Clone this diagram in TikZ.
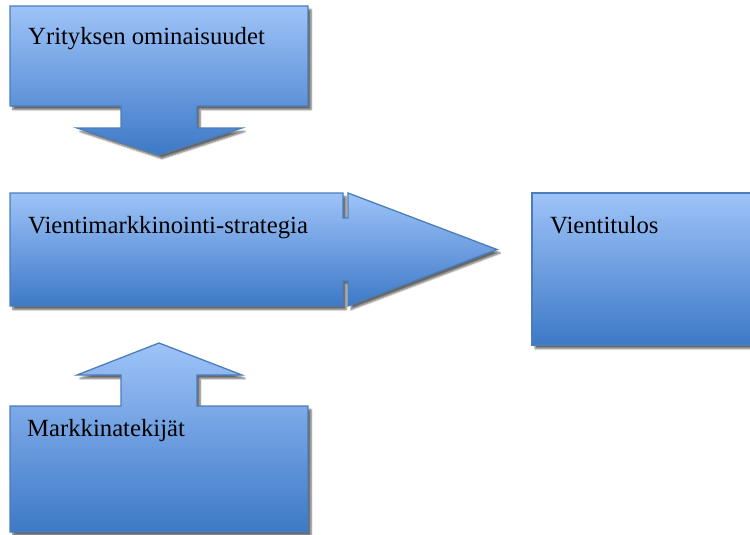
\documentclass[tikz,border=0pt]{standalone}
\usepackage{fontspec}
\setmainfont{Liberation Serif}
\usetikzlibrary{shadows.blur}
\definecolor{boxtop}{HTML}{9EC3F8}
\definecolor{boxmid}{HTML}{82AAE8}
\definecolor{boxbottom}{HTML}{3D79C7}
\definecolor{boxline}{HTML}{4A7EBB}
\tikzset{
  callout/.style={draw=boxline, line width=1.3pt, line join=miter,
    top color=boxtop, middle color=boxmid, bottom color=boxbottom,
    blur shadow={shadow xshift=3pt, shadow yshift=-3.5pt, shadow blur steps=6, shadow opacity=60}},
  label/.style={anchor=base west, inner sep=0pt, font=\fontsize{24.7}{30}\selectfont}
}
\begin{document}
\begin{tikzpicture}[x=1pt,y=-1pt]
\useasboundingbox (0,0) rectangle (750,535);
\draw[callout] (10,6) -- (308,6) -- (308,106) -- (197,106) -- (197,128) -- (242,128) -- (159,155) -- (77,128) -- (121,128) -- (121,106) -- (10,106) -- cycle;
\draw[callout] (10,193) -- (343,193) -- (343,218) -- (348,218) -- (348,193) -- (497,249.5) -- (348,306) -- (348,281) -- (343,281) -- (343,306) -- (10,306) -- cycle;
\draw[callout] (532,193) rectangle (753,345);
\draw[callout] (10,406) -- (121,406) -- (121,375) -- (77,375) -- (159,343) -- (242,375) -- (197,375) -- (197,406) -- (308,406) -- (308,532) -- (10,532) -- cycle;
\node[label] (firm) at (28,45) {Yrityksen ominaisuudet};
\node[label] (strategy) at (28,233) {Vientimarkkinointi-strategia};
\node[label] (result) at (550,233) {Vientitulos};
\node[label] (market) at (27,436) {Markkinatekijät};
\end{tikzpicture}
\end{document}
